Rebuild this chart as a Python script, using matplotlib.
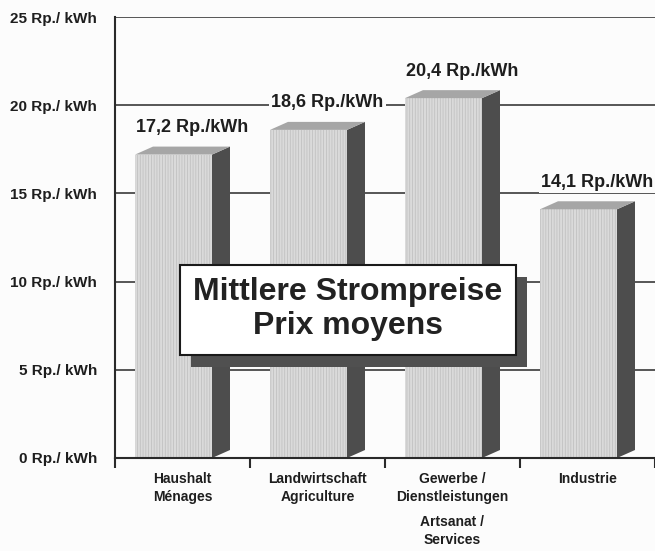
import matplotlib
matplotlib.use("Agg")
import matplotlib.pyplot as plt
from matplotlib.patches import Rectangle

plt.rcParams['font.family'] = ['Liberation Sans', 'DejaVu Sans']
plt.rcParams['hatch.linewidth'] = 0.5
plt.rcParams['hatch.color'] = '#bdbdbd'

categories = ["Haushalt\nMénages", "Landwirtschaft\nAgriculture",
              "Gewerbe /\nDienstleistungen", "Industrie"]
sub_labels = ["", "", "Artsanat /\nServices", ""]
values = [17.2, 18.6, 20.4, 14.1]
value_labels = ["17,2 Rp./kWh", "18,6 Rp./kWh", "20,4 Rp./kWh", "14,1 Rp./kWh"]
yticks = [0, 5, 10, 15, 20, 25]
ytick_labels = [f"{v} Rp./ kWh" for v in yticks]
title_lines = ["Mittlere Strompreise", "Prix moyens"]

W, H = 655, 551
fig = plt.figure(figsize=(W / 100, H / 100), dpi=100)
fig.patch.set_facecolor('#fcfcfc')
ax = fig.add_axes([115 / W, 93 / H, 540 / W, 441 / H])
ax.set_facecolor('none')
ax.set_xlim(-0.5, 3.5)
ax.set_ylim(0, 25)

px_x = 4 / 540
px_y = 25 / 441
off = 20 * px_x
w = 77 * px_x
dx = 18 * px_x
dy = 8 * px_y

text_col = '#1e1e1e'
front_col = '#dadada'
side_col = '#4d4d4d'
top_col = '#a6a6a6'

# gridlines
for t in yticks[1:]:
    ax.axhline(t, color='#3a3a3a', lw=1.2, zorder=1)

for i, v in enumerate(values):
    x0 = i - 0.5 + off
    x1 = x0 + w
    ax.bar(x0, v, width=w, align='edge', color=front_col, hatch='||||||',
           edgecolor='#bdbdbd', linewidth=0, zorder=3)
    ax.fill([x1, x1 + dx, x1 + dx, x1], [0, dy, v + dy, v],
            color=side_col, zorder=3, lw=0)
    ax.fill([x0, x0 + dx, x1 + dx, x1], [v, v + dy, v + dy, v],
            color=top_col, zorder=3, lw=0)
    ax.text(i + 10 * px_x, v + 27 * px_y, value_labels[i], ha='center', va='center',
            fontsize=13, fontweight='bold', color=text_col, zorder=5,
            bbox=dict(boxstyle='square,pad=0.15', fc='#fcfcfc', ec='none'))
    if sub_labels[i]:
        ax.text(i, -57 * px_y, sub_labels[i], ha='center', va='top', fontsize=10,
                fontweight='bold', color=text_col, linespacing=1.35, clip_on=False)

# axes styling
for s in ['top', 'right']:
    ax.spines[s].set_visible(False)
for s in ['left', 'bottom']:
    ax.spines[s].set_color('#2a2a2a')
    ax.spines[s].set_linewidth(1.5)
    ax.spines[s].set_zorder(4)

ax.set_yticks(yticks)
ax.set_yticklabels(ytick_labels, fontsize=11, fontweight='bold', color=text_col)
ax.tick_params(axis='y', length=0, pad=13)

ax.set_xticks(range(len(categories)))
ax.set_xticklabels(categories, fontsize=10, fontweight='bold', color=text_col,
                   linespacing=1.35, va='top')
ax.set_xticks([-0.5, 0.5, 1.5, 2.5, 3.5], minor=True)
ax.tick_params(axis='x', which='major', length=0, pad=10)
ax.tick_params(axis='x', which='minor', length=7, width=1.5, color='#2a2a2a', direction='out')

# title box with shadow
bx0, bx1, by0, by1 = 180, 516, 265, 355
sh = (11, 12)
fig.patches.append(Rectangle(((bx0 + sh[0]) / W, (H - by1 - sh[1]) / H),
                             (bx1 - bx0) / W, (by1 - by0) / H,
                             transform=fig.transFigure, fc='#505050', ec='none', zorder=6))
fig.patches.append(Rectangle((bx0 / W, (H - by1) / H), (bx1 - bx0) / W, (by1 - by0) / H,
                             transform=fig.transFigure, fc='white', ec='#1a1a1a', lw=1.5,
                             zorder=7))
cx = (bx0 + bx1) / 2 / W
fig.text(cx, (H - 292) / H, title_lines[0], ha='center', va='center', fontsize=23,
         fontweight='bold', color='#222222', zorder=8)
fig.text(cx, (H - 326) / H, title_lines[1], ha='center', va='center', fontsize=23,
         fontweight='bold', color='#222222', zorder=8)

fig.savefig('out.png', dpi=100, facecolor=fig.get_facecolor())
